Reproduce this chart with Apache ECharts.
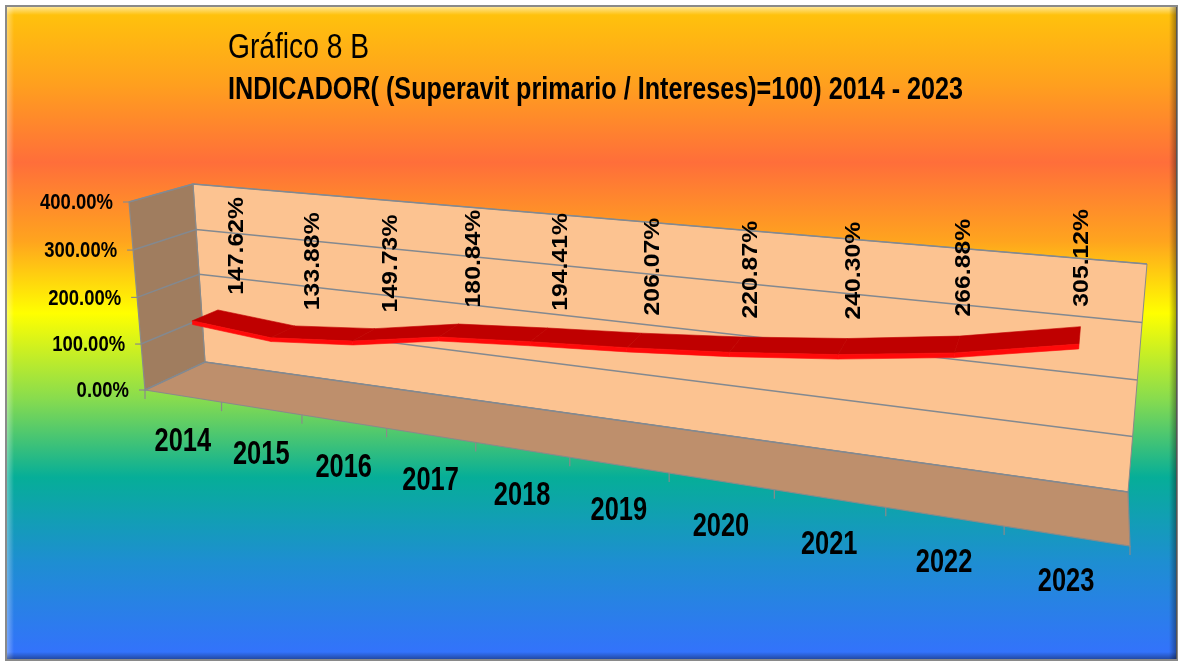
<!DOCTYPE html>
<html>
<head>
<meta charset="utf-8">
<script src="https://cdn.jsdelivr.net/npm/echarts@6/dist/echarts.min.js"></script>
<style>
html, body { margin: 0; padding: 0; background: #fff; }
#chart { width: 1183px; height: 664px; }
</style>
</head>
<body>
<div id="chart"></div>
<script>
// data
const years = ['2014', '2015', '2016', '2017', '2018', '2019', '2020', '2021', '2022', '2023'];
const ratios = [147.62, 133.88, 149.73, 180.84, 194.41, 206.07, 220.87, 240.30, 266.88, 305.12];
const yTicks = [0, 100, 200, 300, 400];
const titleText = 'Gráfico 8 B';
const subtitleText = 'INDICADOR( (Superavit primario / Intereses)=100) 2014 - 2023';

// 3d box: front plane and back wall corners (u0v0, u1v0, u1v1, u0v1)
const frontQuad = [[145, 390], [1130, 546], [1149, 302], [129, 202]];
const backQuad = [[205, 362], [1128, 492], [1147, 264], [193, 184]];
const D_FRONT = 0.25, D_BACK = 0.68, THICK = 0.02;
const FONT = '"Liberation Sans", Arial, sans-serif';

function homography(q) {
    const [x0, y0] = q[0], [x1, y1] = q[1], [x2, y2] = q[2], [x3, y3] = q[3];
    const dx1 = x1 - x2, dx2 = x3 - x2, sx = x0 - x1 + x2 - x3;
    const dy1 = y1 - y2, dy2 = y3 - y2, sy = y0 - y1 + y2 - y3;
    const den = dx1 * dy2 - dx2 * dy1;
    const g = (sx * dy2 - dx2 * sy) / den;
    const h = (dx1 * sy - sx * dy1) / den;
    const a = x1 - x0 + g * x1, b = x3 - x0 + h * x3, c = x0;
    const d = y1 - y0 + g * y1, e = y3 - y0 + h * y3, f = y0;
    return function (u, v) {
        const w = g * u + h * v + 1;
        return [(a * u + b * v + c) / w, (d * u + e * v + f) / w];
    };
}
const hFront = homography(frontQuad);
const hBack = homography(backQuad);
function project(u, v, d) {
    const p = hFront(u, v), q = hBack(u, v);
    return [p[0] + (q[0] - p[0]) * d, p[1] + (q[1] - p[1]) * d];
}

// grid px -> unit coords of the box
function unitOf(api, params, x, val) {
    const cs = params.coordSys;
    const p = api.coord([x, val]);
    return [(p[0] - cs.x) / cs.width, (cs.y + cs.height - p[1]) / cs.height];
}

const measure = document.createElement('canvas').getContext('2d');
function textWidth(txt, font) {
    measure.font = font;
    return measure.measureText(txt).width;
}

const chart = echarts.init(document.getElementById('chart'));

const bgGradient = new echarts.graphic.LinearGradient(0, 0, 0, 1, [
    { offset: 0, color: '#FFC60A' },
    { offset: 0.12, color: '#FFA01E' },
    { offset: 0.24, color: '#FF6E3A' },
    { offset: 0.36, color: '#FFA41E' },
    { offset: 0.47, color: '#FFFF00' },
    { offset: 0.6, color: '#88DC4E' },
    { offset: 0.72, color: '#06AE98' },
    { offset: 0.85, color: '#1E8ED2' },
    { offset: 1, color: '#3570FF' }
]);

const leftWall = [project(0, 0, 0), project(0, 1, 0), project(0, 1, 1), project(0, 0, 1)];
const backWall = [project(0, 0, 1), project(1, 0, 1), project(1, 1, 1), project(0, 1, 1)];
const floor = [project(0, 0, 0), project(1, 0, 0), project(1, 0, 1), project(0, 0, 1)];

const titleFont = '35px ' + FONT;
const subFont = 'bold 32px ' + FONT;

const option = {
    animation: false,
    backgroundColor: '#ffffff',
    grid: { left: 100, top: 100, width: 800, height: 400 },
    xAxis: { type: 'category', data: years, show: false, boundaryGap: true },
    yAxis: { type: 'value', min: 0, max: 400, interval: 100, show: false },
    graphic: [
        { type: 'rect', z: 0, shape: { x: 6, y: 6, width: 1171, height: 654 },
          style: { fill: bgGradient, stroke: '#8a8a8a', lineWidth: 2 } },
        { type: 'rect', z: 0, shape: { x: 7, y: 7, width: 1169, height: 8 },
          style: { fill: new echarts.graphic.LinearGradient(0, 0, 0, 1, [
              { offset: 0, color: 'rgba(255,255,255,0.55)' }, { offset: 1, color: 'rgba(255,255,255,0)' }]) } },
        { type: 'rect', z: 0, shape: { x: 7, y: 7, width: 7, height: 652 },
          style: { fill: new echarts.graphic.LinearGradient(0, 0, 1, 0, [
              { offset: 0, color: 'rgba(255,255,255,0.35)' }, { offset: 1, color: 'rgba(255,255,255,0)' }]) } },
        { type: 'rect', z: 0, shape: { x: 1169, y: 7, width: 8, height: 652 },
          style: { fill: new echarts.graphic.LinearGradient(0, 0, 1, 0, [
              { offset: 0, color: 'rgba(0,0,0,0)' }, { offset: 1, color: 'rgba(0,0,0,0.4)' }]) } },
        { type: 'rect', z: 0, shape: { x: 7, y: 652, width: 1169, height: 7 },
          style: { fill: new echarts.graphic.LinearGradient(0, 0, 0, 1, [
              { offset: 0, color: 'rgba(0,0,0,0)' }, { offset: 1, color: 'rgba(0,0,0,0.35)' }]) } },
        { type: 'polygon', z: 1, shape: { points: backWall },
          style: { fill: '#FCC391', stroke: '#8a8a8a', lineWidth: 1 } },
        { type: 'polygon', z: 1, shape: { points: leftWall },
          style: { fill: '#A07D5F', stroke: '#8a8a8a', lineWidth: 1.2 } },
        { type: 'polygon', z: 1, shape: { points: floor },
          style: { fill: '#BE8F6C', stroke: '#8a8a8a', lineWidth: 1.2 } },
        { type: 'text', z: 10, x: 228, y: 48, scaleX: 141 / textWidth(titleText, titleFont),
          style: { text: titleText, font: titleFont, fill: '#000', verticalAlign: 'middle' } },
        { type: 'text', z: 10, x: 228, y: 90, scaleX: 735 / textWidth(subtitleText, subFont),
          style: { text: subtitleText, font: subFont, fill: '#000', verticalAlign: 'middle' } }
    ],
    series: [
        {
            // value axis: gridlines on both walls, ticks and labels
            type: 'custom',
            z: 3,
            silent: true,
            data: yTicks.map(v => [0, v]),
            renderItem: function (params, api) {
                const v = unitOf(api, params, 0, api.value(1))[1];
                const f = project(0, v, 0), b = project(0, v, 1), r = project(1, v, 1);
                return {
                    type: 'group',
                    children: [
                        { type: 'polyline', shape: { points: [f, b, r] },
                          style: { stroke: '#838990', lineWidth: 1.5, fill: null } },
                        { type: 'line', shape: { x1: f[0], y1: f[1], x2: f[0] - 6, y2: f[1] },
                          style: { stroke: '#8a8a8a', lineWidth: 1.2 } },
                        { type: 'text', x: f[0] - 16, y: f[1] + 1, scaleX: 0.84, scaleY: 1.04,
                          style: { text: api.value(1).toFixed(2) + '%', fontSize: 22, fontWeight: 'bold',
                                   fontFamily: FONT, fill: '#000', align: 'right', verticalAlign: 'middle' } }
                    ]
                };
            }
        },
        {
            // category axis: ticks on the floor edge and year labels
            type: 'custom',
            z: 3,
            silent: true,
            data: years.map((y, i) => [i, 0]),
            renderItem: function (params, api) {
                const i = api.value(0);
                const uc = unitOf(api, params, i, 0)[0];
                const half = api.size([1, 0])[0] / params.coordSys.width / 2;
                const children = [];
                const bounds = [uc - half];
                if (params.dataIndexInside === years.length - 1) bounds.push(uc + half);
                bounds.forEach(u => {
                    const p = project(u, 0, 0);
                    children.push({ type: 'line', shape: { x1: p[0], y1: p[1], x2: p[0], y2: p[1] + 9 },
                                    style: { stroke: '#8a8a8a', lineWidth: 1.2 } });
                });
                const c = project(uc, 0, 0);
                children.push({ type: 'text', x: c[0], y: c[1] + 46, scaleX: 0.82, scaleY: 1.08,
                                style: { text: years[i], fontSize: 31, fontWeight: 'bold', fontFamily: FONT,
                                         fill: '#000', align: 'center', verticalAlign: 'middle' } });
                return { type: 'group', children: children };
            }
        },
        {
            // the ribbon line and its value labels
            type: 'custom',
            name: 'Indicador',
            z: 4,
            data: ratios.map((v, i) => [i, v]),
            renderItem: function (params, api) {
                const i = api.value(0), val = api.value(1);
                const a = unitOf(api, params, i, val);
                const children = [];
                if (i < ratios.length - 1) {
                    const b = unitOf(api, params, i + 1, ratios[i + 1]);
                    const f1 = project(a[0], a[1], D_FRONT), f2 = project(b[0], b[1], D_FRONT);
                    const k1 = project(a[0], a[1], D_BACK), k2 = project(b[0], b[1], D_BACK);
                    const l1 = project(a[0], a[1] - THICK, D_FRONT), l2 = project(b[0], b[1] - THICK, D_FRONT);
                    children.push({ type: 'polygon', shape: { points: [f1, f2, k2, k1] },
                                    style: { fill: '#BF0000', stroke: '#BF0000', lineWidth: 0.6 } });
                    children.push({ type: 'polygon', shape: { points: [f1, f2, l2, l1] },
                                    style: { fill: '#FF0A0A', stroke: '#FF0A0A', lineWidth: 0.6 } });
                }
                const t = project(a[0], a[1], 1);
                children.push({ type: 'text', x: t[0], y: t[1] - 7, rotation: Math.PI / 2, scaleX: 1.18, scaleY: 1.05,
                                style: { text: val.toFixed(2) + '%', fontSize: 21, fontWeight: 'bold',
                                         fontFamily: FONT, fill: '#000', align: 'left', verticalAlign: 'middle' } });
                return { type: 'group', children: children };
            }
        }
    ]
};

chart.setOption(option);
</script>
</body>
</html>
